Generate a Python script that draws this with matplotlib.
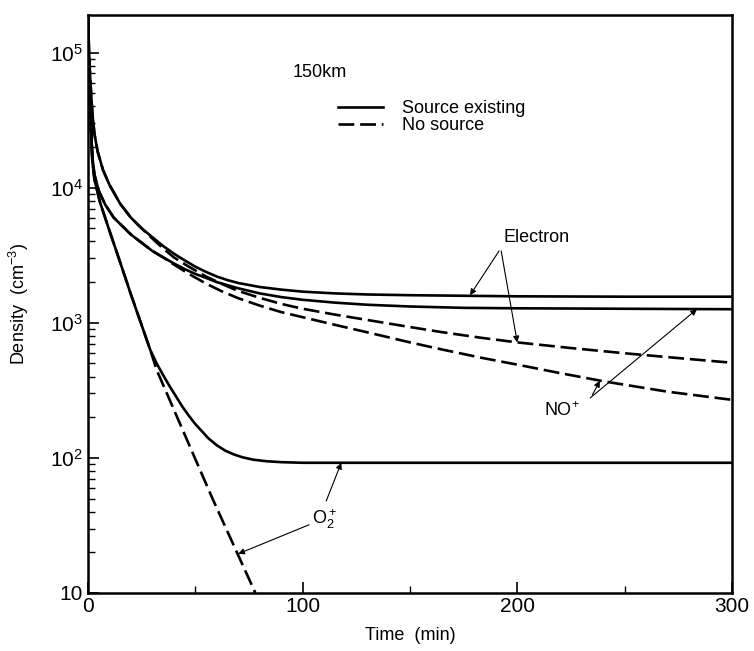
import matplotlib
matplotlib.use("Agg")
import matplotlib.pyplot as plt
from matplotlib.lines import Line2D
from matplotlib.ticker import FixedLocator, FixedFormatter, LogLocator, NullFormatter

plt.rcParams.update({
    "font.family": ["Liberation Sans", "DejaVu Sans"],
    "mathtext.default": "regular",
    "font.size": 13,
})

# decay of ion / electron density at 150 km (t in minutes, n in cm^-3)
t_e_src = [0, 0.5, 1, 2, 3, 4.5, 7, 10, 15, 20, 25, 30, 35, 40, 45, 50, 55, 60, 65, 70,
           80, 90, 100, 115, 130, 150, 200, 250, 300]
n_e_src = [1.9e5, 1.0e5, 6.5e4, 3.6e4, 2.5e4, 1.85e4, 1.35e4, 1.05e4, 7.6e3, 6.0e3, 5.0e3,
           4.3e3, 3.7e3, 3.25e3, 2.9e3, 2.6e3, 2.38e3, 2.2e3, 2.07e3, 1.97e3,
           1.84e3, 1.76e3, 1.70e3, 1.65e3, 1.62e3, 1.60e3, 1.57e3, 1.56e3, 1.56e3]

t_e_nos = [0, 0.5, 1, 2, 3, 4.5, 7, 10, 15, 20, 25, 30, 35, 40, 47, 55, 62, 70, 80, 90,
           100, 115, 130, 150, 165, 183, 200, 225, 250, 275, 300]
n_e_nos = [1.9e5, 1.0e5, 6.5e4, 3.6e4, 2.5e4, 1.85e4, 1.35e4, 1.05e4, 7.6e3, 6.0e3, 5.0e3,
           4.2e3, 3.55e3, 3.05e3, 2.6e3, 2.2e3, 1.95e3, 1.72e3, 1.53e3, 1.38e3,
           1.27e3, 1.15e3, 1.05e3, 930, 852, 775, 716, 650, 595, 548, 506]

t_no_src = [0, 0.5, 1, 2, 3, 5, 8, 12, 20, 30, 35, 40, 45, 50, 55, 60, 70, 80, 90, 100,
            115, 130, 150, 175, 200, 250, 300]
n_no_src = [1.9e5, 7.0e4, 4.0e4, 1.7e4, 1.25e4, 9.5e3, 7.5e3, 6.0e3, 4.5e3, 3.4e3, 3.05e3,
            2.75e3, 2.5e3, 2.3e3, 2.15e3, 2.0e3, 1.8e3, 1.65e3, 1.55e3, 1.48e3,
            1.41e3, 1.36e3, 1.32e3, 1.29e3, 1.28e3, 1.27e3, 1.26e3]

t_no_nos = [0, 0.5, 1, 2, 3, 5, 8, 12, 20, 30, 35, 40, 47, 55, 62, 70, 80, 90, 100, 115,
            130, 150, 165, 183, 200, 220, 241, 270, 300]
n_no_nos = [1.9e5, 7.0e4, 4.0e4, 1.7e4, 1.25e4, 9.5e3, 7.5e3, 6.0e3, 4.5e3, 3.4e3, 3.05e3,
            2.7e3, 2.3e3, 1.95e3, 1.72e3, 1.52e3, 1.34e3, 1.2e3, 1.1e3, 966,
            851, 716, 634, 552, 490, 424, 367, 309, 269]

t_o2_src = [0, 0.5, 1, 2, 3, 5.6, 10, 15, 20, 25, 29, 32, 35, 38, 41, 44, 47, 50, 53, 56,
            60, 64, 68, 72, 77, 83, 90, 100, 150, 200, 300]
n_o2_src = [1.9e5, 7.0e4, 4.0e4, 1.6e4, 1.15e4, 7.8e3, 4.8e3, 2.8e3, 1.62e3, 960, 630,
            500, 410, 340, 285, 239, 205, 178, 158, 140,
            124, 113, 106, 101, 97, 94.5, 93, 92, 92, 92, 92]

t_o2_nos = [0, 0.5, 1, 2, 3, 5.6, 10, 15, 20, 25, 29, 32, 40, 50, 58, 70, 78]
n_o2_nos = [1.9e5, 7.0e4, 4.0e4, 1.6e4, 1.15e4, 7.8e3, 4.8e3, 2.8e3, 1.62e3, 960, 630,
            447, 228, 98, 50, 19, 10]

y_ticks = [10, 1e2, 1e3, 1e4, 1e5]
y_labels = ["10", "$10^2$", "$10^3$", "$10^4$", "$10^5$"]
x_ticks = [0, 100, 200, 300]

fig = plt.figure(figsize=(7.54, 6.51), dpi=100)
ax = fig.add_axes([0.1167, 0.0891, 0.854, 0.888])

solid = dict(color="black", lw=1.9, solid_joinstyle="round")
dashed = dict(color="black", lw=1.9, linestyle=(0, (6, 2.2)))

ax.plot(t_e_src, n_e_src, **solid)
ax.plot(t_no_src, n_no_src, **solid)
ax.plot(t_o2_src, n_o2_src, **solid)
ax.plot(t_e_nos, n_e_nos, **dashed)
ax.plot(t_no_nos, n_no_nos, **dashed)
ax.plot(t_o2_nos, n_o2_nos, **dashed)

ax.set_yscale("log")
ax.set_xlim(0, 300)
ax.set_ylim(10, 1.9e5)

ax.yaxis.set_major_locator(FixedLocator(y_ticks))
ax.yaxis.set_major_formatter(FixedFormatter(y_labels))
ax.yaxis.set_minor_locator(LogLocator(base=10, subs=range(2, 10)))
ax.yaxis.set_minor_formatter(NullFormatter())
ax.xaxis.set_major_locator(FixedLocator(x_ticks))
ax.xaxis.set_minor_locator(FixedLocator([50, 150, 250]))

ax.tick_params(which="both", direction="in", top=False, right=False, labelsize=15)
ax.tick_params(which="major", length=8, width=1.2)
ax.tick_params(which="minor", length=5, width=1.0)
ax.tick_params(axis="x", pad=3)
for sp in ax.spines.values():
    sp.set_linewidth(1.8)

ax.set_xlabel("Time  (min)", fontsize=13, labelpad=8)
ax.set_ylabel("Density  (cm$^{-3}$)", fontsize=13, labelpad=14)

ax.text(0.318, 0.90, "150km", transform=ax.transAxes, fontsize=13, va="center")
handles = [Line2D([], [], **solid), Line2D([], [], **dashed)]
ax.legend(handles, ["Source existing", "No source"], loc="upper left",
          bbox_to_anchor=(0.388, 0.852), frameon=False, borderpad=0,
          borderaxespad=0, handlelength=2.5, handletextpad=1.05,
          labelspacing=0.0, fontsize=13)

arrow = dict(arrowstyle="-|>", color="black", lw=0.8, mutation_scale=9,
             shrinkA=0, shrinkB=0)

ax.text(209, 4.3e3, "Electron", ha="center", va="center", fontsize=13)
ax.annotate("", xy=(178, 1.6e3), xytext=(191.5, 3.4e3), arrowprops=arrow)
ax.annotate("", xy=(200, 716), xytext=(192.5, 3.4e3), arrowprops=arrow)

ax.text(221, 225, "NO$^{+}$", ha="center", va="center", fontsize=13)
ax.annotate("", xy=(238.5, 372), xytext=(235, 293), arrowprops=arrow)
ax.annotate("", xy=(283.7, 1.26e3), xytext=(234, 278), arrowprops=arrow)

ax.text(110.5, 35, "O$_2^+$", ha="center", va="center", fontsize=13)
ax.annotate("", xy=(118, 92), xytext=(111, 48), arrowprops=arrow)
ax.annotate("", xy=(70, 19.5), xytext=(103, 32), arrowprops=arrow)

fig.savefig("out.png", dpi=100)
